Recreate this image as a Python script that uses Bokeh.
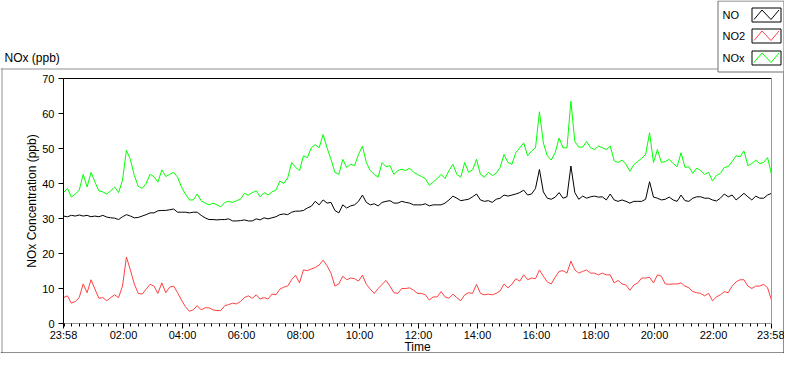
import numpy as np
from bokeh.plotting import figure
from bokeh.models import FixedTicker, LinearAxis, Range1d, GridBox
from bokeh.core.properties import value
from bokeh.embed import file_html
from bokeh.resources import INLINE

# ---------------- data (minutes after 23:58, 8-minute samples) ----------------
minutes = list(range(0, 1441, 8))

no = [30.7, 30.5, 30.9, 30.7, 31.0, 30.7, 30.9, 30.5, 30.7, 30.5, 30.9, 30.4, 30.2, 30.1, 29.7,
      30.5, 31.1, 30.7, 30.2, 30.3, 30.7, 31.1, 31.6, 31.6, 32.2, 32.3, 32.3, 32.5, 32.7, 31.8,
      31.8, 31.8, 31.6, 31.8, 31.8, 30.9, 30.2, 29.7, 29.7, 29.6, 29.7, 29.7, 29.9, 29.3, 29.3,
      29.4, 29.6, 29.3, 29.3, 29.9, 29.6, 30.2, 29.9, 30.2, 30.5, 31.1, 31.3, 31.1, 31.8, 32.1,
      32.1, 32.3, 33.0, 33.5, 34.9, 33.9, 35.3, 34.4, 34.6, 32.3, 31.6, 33.9, 33.0, 33.6, 33.9,
      34.9, 36.7, 34.6, 33.9, 34.2, 33.6, 34.6, 34.9, 35.1, 34.4, 34.4, 34.9, 34.6, 34.4, 33.9,
      33.9, 33.9, 34.2, 33.6, 33.9, 33.9, 33.9, 34.4, 35.3, 36.4, 35.8, 35.1, 35.3, 35.5, 36.2,
      37.0, 35.3, 34.9, 35.1, 34.6, 35.5, 35.8, 36.7, 36.4, 36.7, 37.0, 37.4, 38.1, 36.7, 37.0,
      38.6, 44.0, 37.6, 35.8, 35.5, 36.1, 37.4, 35.8, 36.2, 45.0, 37.4, 35.5, 36.4, 35.8, 36.2,
      36.4, 36.1, 36.2, 35.3, 37.0, 35.3, 34.9, 35.3, 34.9, 34.4, 34.9, 34.9, 34.9, 35.5, 40.5,
      36.1, 35.8, 35.3, 35.5, 36.1, 35.3, 34.9, 36.7, 35.1, 34.9, 35.8, 36.2, 36.2, 35.8, 35.8,
      35.3, 35.0, 35.8, 37.0, 36.2, 36.7, 35.3, 36.2, 37.2, 36.2, 35.3, 36.4, 35.8, 35.8, 36.7,
      37.2]

no2 = [7.4, 7.9, 5.8, 6.3, 7.4, 11.3, 8.8, 12.5, 9.8, 7.2, 7.4, 6.5, 7.4, 8.2, 7.4,
       10.7, 19.0, 15.3, 11.3, 8.6, 8.4, 9.8, 11.2, 10.7, 8.6, 11.6, 8.8, 10.4, 10.7, 8.8,
       6.7, 4.8, 3.5, 3.9, 5.1, 3.9, 4.5, 4.5, 3.9, 3.7, 3.7, 5.1, 5.4, 5.8, 5.6,
       6.3, 7.4, 7.9, 7.2, 8.2, 7.0, 7.4, 7.0, 8.4, 8.2, 9.8, 10.4, 10.7, 12.5, 13.8,
       11.6, 15.3, 15.1, 15.6, 16.0, 16.7, 18.1, 16.5, 14.4, 10.7, 11.3, 13.5, 12.5, 13.0, 12.8,
       12.1, 13.8, 11.2, 9.8, 8.6, 10.0, 11.2, 12.3, 10.7, 8.8, 8.6, 10.0, 10.0, 10.2, 9.5,
       8.6, 8.6, 8.2, 6.7, 7.6, 7.6, 9.1, 7.6, 7.2, 8.4, 7.4, 6.5, 8.2, 8.8, 8.6,
       11.2, 8.6, 8.2, 8.4, 8.2, 8.6, 9.3, 11.3, 10.2, 11.2, 12.8, 12.1, 13.9, 12.5, 13.0,
       12.8, 15.3, 13.5, 11.9, 11.3, 13.2, 14.9, 15.1, 14.4, 17.8, 15.3, 14.4, 14.9, 15.3, 14.4,
       14.4, 13.9, 14.4, 13.9, 13.9, 11.6, 12.3, 11.3, 11.0, 9.5, 11.0, 11.6, 13.0, 13.0, 13.2,
       11.6, 13.9, 13.5, 11.3, 11.2, 11.3, 11.3, 11.6, 10.7, 10.2, 9.1, 8.8, 8.6, 7.9, 8.6,
       6.5, 7.6, 8.2, 9.1, 8.8, 10.7, 11.9, 12.5, 12.5, 10.7, 10.0, 10.7, 10.7, 11.2, 10.2,
       6.7]

nox = [37.4, 38.6, 36.1, 37.0, 38.1, 42.6, 39.0, 43.2, 40.4, 37.9, 37.6, 37.0, 37.9, 39.0, 37.4,
       40.9, 49.5, 46.9, 42.3, 39.2, 38.6, 40.0, 42.6, 42.0, 40.4, 43.9, 42.0, 42.6, 43.2, 41.8,
       39.0, 37.0, 35.3, 35.3, 37.0, 35.1, 34.4, 33.9, 34.4, 33.9, 33.3, 34.6, 34.9, 34.6, 35.1,
       35.5, 37.2, 36.7, 37.4, 37.9, 36.2, 37.4, 36.7, 37.6, 38.1, 40.7, 40.0, 41.6, 46.0, 44.6,
       43.7, 47.9, 47.4, 50.2, 51.1, 50.2, 54.0, 50.2, 46.9, 43.2, 42.6, 46.9, 44.6, 45.5, 45.1,
       48.3, 50.7, 46.0, 43.7, 42.6, 41.8, 46.0, 44.8, 45.1, 42.6, 43.7, 44.1, 43.7, 44.4, 43.2,
       42.6, 42.0, 41.4, 39.5, 40.4, 41.4, 42.6, 41.4, 43.7, 45.5, 42.6, 41.8, 46.0, 43.2, 43.9,
       46.9, 42.6, 41.8, 43.2, 42.3, 42.9, 44.6, 48.3, 46.0, 45.5, 48.8, 50.2, 51.6, 47.9, 49.3,
       50.2, 60.5, 51.6, 47.9, 46.7, 48.8, 53.0, 50.2, 50.2, 63.5, 52.0, 50.4, 50.4, 52.0, 50.2,
       49.7, 50.7, 50.2, 49.7, 50.7, 46.5, 46.0, 46.7, 45.5, 43.5, 45.4, 46.3, 47.2, 48.3, 54.5,
       46.0, 49.7, 46.0, 46.3, 46.9, 45.7, 44.8, 48.8, 44.6, 44.8, 42.9, 44.4, 43.7, 42.6, 43.2,
       40.7, 42.3, 42.9, 44.6, 44.8, 46.3, 47.9, 47.6, 49.3, 45.1, 45.7, 46.7, 45.7, 46.0, 47.4,
       42.6]

tick_minutes = [0, 122, 242, 362, 482, 602, 722, 842, 962, 1082, 1202, 1322, 1440]
tick_labels = ["23:58", "02:00", "04:00", "06:00", "08:00", "10:00", "12:00", "14:00",
               "16:00", "18:00", "20:00", "22:00", "23:58"]
y_ticks = [0, 10, 20, 30, 40, 50, 60, 70]

series_names = ["NO", "NO2", "NOx"]
series_colors = ["#000000", "#FF4040", "#00FF00"]

FONT = "Liberation Sans"
W, H = 784, 353
FL, FT = 63, 78          # plot frame left / top on canvas
FR, FB = 771, 323        # plot frame right / bottom on canvas

# ---------------- background panel (frame, caption, legend, x title) ----------------
bg = figure(width=W, height=H, output_backend="svg", toolbar_location=None,
            x_range=Range1d(0, W), y_range=Range1d(H, 0),
            min_border=0, x_axis_location=None, y_axis_location=None,
            background_fill_color="white", border_fill_color="white")
bg.grid.visible = False
bg.outline_line_color = None
bg.frame_align = False

LG_L, LG_R, LG_B = 717, 783, 72   # legend box

# outer panel frame
bg.segment(x0=[0, 1.5], y0=[68.5, 68], x1=[LG_L, 1.5], y1=[68.5, H], line_color="#8f8f8f", line_width=1)
bg.segment(x0=[783.5, 0], y0=[LG_B, 352.5], x1=[783.5, W], y1=[H, 352.5], line_color="#1e1e1e", line_width=1)

# caption and x-axis title
bg.text(x=[4], y=[57], text=["NOx (ppb)"], text_font=value(FONT), text_font_size=value("12px"),
        text_color="black", text_align="left", text_baseline="middle")
bg.text(x=[(FL + FR) / 2], y=[346.5], text=["Time"], text_font=value(FONT), text_font_size=value("12px"),
        text_color="black", text_align="center", text_baseline="middle")

# legend
bg.quad(left=[LG_L + 0.5], right=[LG_R + 0.5], top=[0.5], bottom=[LG_B - 0.5], fill_color="white",
        line_color="#6e6e6e", line_width=1)
row_c = [14, 35, 57]
bg.text(x=[LG_L + 5] * 3, y=row_c, text=series_names, text_font=value(FONT), text_font_size=value("11px"),
        text_color="black", text_align="left", text_baseline="middle")
L, R = 751, 780
bg.quad(left=[L + 0.5] * 3, right=[R + 0.5] * 3, top=[c - 6.5 for c in row_c],
        bottom=[c + 7.5 for c in row_c], fill_color="white", line_color="black", line_width=1)
for col, c in zip(series_colors, row_c):
    T, B = c - 7, c + 8
    bg.line(x=[L + 2.5, L + 10.5, L + 19.5, L + 27.5], y=[B - 3, T + 2.5, B - 3, T + 2.5],
            line_color=col, line_width=1)

# ---------------- chart ----------------
p = figure(width=W, height=H, output_backend="svg", toolbar_location=None,
           x_range=Range1d(0, 1440), y_range=Range1d(0, 70),
           min_border_left=FL, min_border_right=W - FR,
           min_border_top=FT, min_border_bottom=H - FB,
           background_fill_color=None, border_fill_color=None, border_fill_alpha=0)
p.grid.visible = False
p.outline_line_color = None
p.frame_align = False

minor = list(range(2, 1440, 15))
p.xaxis.ticker = FixedTicker(ticks=tick_minutes, minor_ticks=minor)
p.xaxis.major_label_overrides = {t: l for t, l in zip(tick_minutes, tick_labels)}
p.yaxis.ticker = FixedTicker(ticks=y_ticks, minor_ticks=[])

for ax in (p.xaxis[0], p.yaxis[0]):
    ax.major_label_text_font = FONT
    ax.major_label_text_font_size = "11px"
    ax.major_label_text_color = "black"
    ax.major_tick_line_color = "black"
    ax.minor_tick_line_color = "black"
    ax.major_tick_in = 0
    ax.minor_tick_in = 0
    ax.major_tick_out = 5
    ax.minor_tick_out = 3

p.xaxis.axis_line_color = "#9a9a9a"
p.xaxis.major_label_standoff = 0
p.yaxis.axis_line_color = "black"
p.yaxis.major_label_standoff = 4
p.yaxis.axis_label = "NOx Concentration (ppb)"
p.yaxis.axis_label_text_font = FONT
p.yaxis.axis_label_text_font_size = "12px"
p.yaxis.axis_label_text_font_style = "normal"
p.yaxis.axis_label_text_color = "black"
p.yaxis.axis_label_standoff = 0

top_ax = LinearAxis(ticker=FixedTicker(ticks=[]), axis_line_color="black",
                    major_tick_line_color=None, minor_tick_line_color=None,
                    major_label_text_font_size="0px")
right_ax = LinearAxis(ticker=FixedTicker(ticks=[]), axis_line_color="#9a9a9a",
                      major_tick_line_color=None, minor_tick_line_color=None,
                      major_label_text_font_size="0px")
p.add_layout(top_ax, "above")
p.add_layout(right_ax, "right")

for vals, col in zip([no, no2, nox], series_colors):
    p.line(minutes, vals, line_color=col, line_width=1)

layout = GridBox(children=[(bg, 0, 0), (p, 0, 0)])

open("out.html", "w").write(file_html(layout, INLINE))
